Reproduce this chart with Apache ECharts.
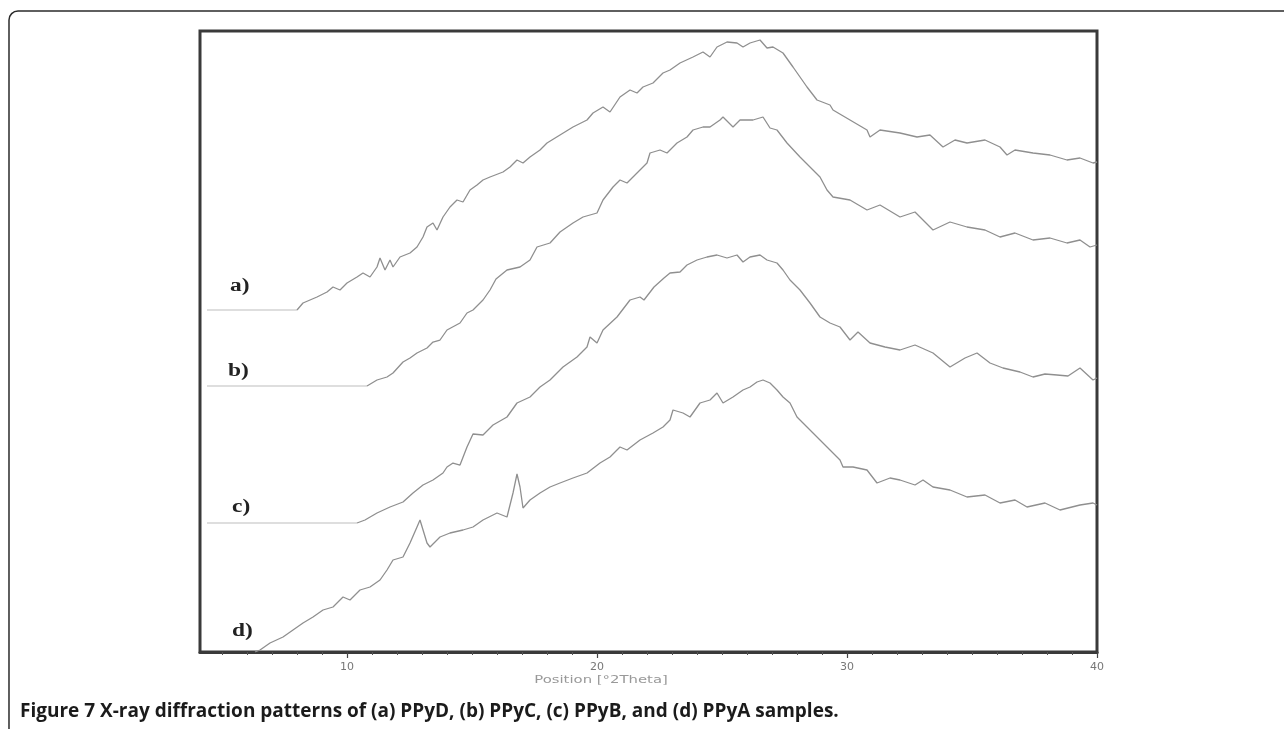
<!DOCTYPE html>
<html>
<head>
<meta charset="utf-8">
<title>Figure 7 XRD</title>
<script src="https://cdn.jsdelivr.net/npm/echarts@6/dist/echarts.min.js"></script>
<style>
  html, body { margin: 0; padding: 0; background: #fff; }
  #main { width: 1284px; height: 729px; }
</style>
</head>
<body>
<div id="main"></div>
<script>
// x = position [deg 2theta], y = intensity (arb. units, traces offset as in the figure)

// a) PPyD
var ppyD = [
  [8.00, 342], [8.24, 349], [8.80, 355], [9.20, 360], [9.44, 365], [9.72, 362], [10.00, 369],
  [10.40, 375], [10.64, 379], [10.92, 375], [11.20, 385], [11.32, 394], [11.52, 382], [11.72, 392],
  [11.84, 385], [12.12, 395], [12.52, 399], [12.80, 405], [13.04, 415], [13.20, 425], [13.44, 429],
  [13.60, 422], [13.84, 435], [14.12, 445], [14.40, 452], [14.64, 450], [14.92, 462], [15.20, 467],
  [15.44, 472], [15.72, 475], [16.24, 480], [16.52, 485], [16.80, 492], [17.04, 489], [17.32, 495],
  [17.72, 502], [18.00, 509], [18.52, 517], [19.04, 525], [19.60, 532], [19.84, 539], [20.24, 545],
  [20.52, 540], [20.92, 555], [21.32, 562], [21.60, 559], [21.84, 565], [22.24, 569], [22.64, 579],
  [22.92, 582], [23.32, 589], [23.84, 595], [24.24, 600], [24.52, 595], [24.80, 605], [25.20, 610],
  [25.60, 609], [25.84, 605], [26.12, 609], [26.52, 612], [26.80, 604], [27.04, 605], [27.44, 599],
  [27.84, 585], [28.40, 565], [28.80, 552], [29.32, 547], [29.44, 542], [30.12, 532], [30.80, 522],
  [30.92, 515], [31.32, 522], [32.12, 519], [32.80, 515], [33.32, 517], [33.84, 505], [34.32, 512],
  [34.80, 509], [35.52, 512], [36.12, 505], [36.40, 497], [36.72, 502], [37.44, 499], [38.12, 497],
  [38.80, 492], [39.32, 494], [39.84, 489], [40.00, 490]
];

// b) PPyC
var ppyC = [
  [10.80, 266], [11.20, 272], [11.60, 275], [11.84, 279], [12.24, 290], [12.52, 294], [12.80, 299],
  [13.20, 304], [13.44, 310], [13.72, 312], [14.00, 322], [14.52, 329], [14.80, 339], [15.04, 342],
  [15.44, 352], [15.72, 362], [15.96, 373], [16.40, 382], [16.92, 385], [17.32, 392], [17.60, 405],
  [18.12, 409], [18.52, 420], [19.04, 429], [19.44, 435], [20.00, 439], [20.24, 452], [20.64, 465],
  [20.92, 472], [21.20, 469], [21.60, 479], [22.00, 489], [22.12, 499], [22.52, 502], [22.80, 499],
  [23.20, 509], [23.60, 515], [23.84, 522], [24.24, 525], [24.52, 525], [24.92, 532], [25.04, 535],
  [25.44, 525], [25.72, 532], [26.24, 532], [26.64, 535], [26.92, 524], [27.20, 522], [27.60, 509],
  [28.12, 495], [28.64, 482], [28.92, 475], [29.20, 462], [29.44, 455], [30.12, 452], [30.80, 442],
  [31.32, 447], [32.12, 435], [32.72, 440], [33.44, 422], [34.12, 430], [34.80, 425], [35.52, 422],
  [36.12, 415], [36.72, 419], [37.44, 412], [38.12, 414], [38.80, 409], [39.32, 412], [39.72, 405],
  [40.00, 407]
];

// c) PPyB
var ppyB = [
  [10.40, 129], [10.72, 132], [11.20, 139], [11.72, 145], [12.24, 150], [12.64, 159], [13.04, 167],
  [13.44, 172], [13.84, 179], [14.00, 185], [14.24, 189], [14.52, 187], [14.80, 205], [15.04, 218],
  [15.44, 217], [15.84, 227], [16.40, 235], [16.80, 249], [17.32, 255], [17.72, 265], [18.12, 272],
  [18.64, 285], [19.20, 295], [19.60, 305], [19.72, 315], [20.00, 309], [20.24, 322], [20.80, 335],
  [21.32, 352], [21.72, 355], [21.88, 352], [22.28, 365], [22.68, 374], [22.92, 379], [23.32, 380],
  [23.60, 387], [24.00, 392], [24.40, 395], [24.80, 397], [25.20, 394], [25.60, 397], [25.84, 390],
  [26.12, 395], [26.52, 397], [26.80, 392], [27.20, 389], [27.44, 382], [27.72, 372], [28.12, 362],
  [28.52, 349], [28.92, 335], [29.32, 329], [29.72, 325], [30.12, 312], [30.44, 320], [30.92, 309],
  [31.52, 305], [32.12, 302], [32.72, 307], [33.44, 299], [34.12, 285], [34.72, 294], [35.20, 299],
  [35.72, 289], [36.24, 284], [36.92, 280], [37.44, 275], [37.92, 278], [38.40, 277], [38.84, 276],
  [39.32, 284], [39.84, 272], [40.00, 274]
];

// d) PPyA
var ppyA = [
  [6.32, 0], [6.52, 2], [6.92, 9], [7.44, 15], [7.84, 22], [8.24, 29], [8.64, 35], [9.04, 42],
  [9.44, 45], [9.84, 55], [10.12, 52], [10.52, 62], [10.92, 65], [11.32, 72], [11.60, 82], [11.84, 92],
  [12.24, 95], [12.52, 109], [12.80, 125], [12.92, 132], [13.20, 109], [13.32, 105], [13.72, 115],
  [14.12, 119], [14.64, 122], [15.04, 125], [15.44, 132], [16.00, 139], [16.40, 135], [16.64, 159],
  [16.80, 178], [16.92, 165], [17.04, 144], [17.32, 152], [17.72, 159], [18.12, 165], [18.52, 169],
  [19.04, 174], [19.60, 179], [20.12, 189], [20.52, 195], [20.92, 205], [21.20, 202], [21.72, 212],
  [22.24, 219], [22.64, 225], [22.92, 232], [23.04, 242], [23.44, 239], [23.72, 235], [24.12, 249],
  [24.52, 252], [24.80, 259], [25.04, 249], [25.44, 255], [25.84, 262], [26.12, 265], [26.40, 270],
  [26.64, 272], [26.92, 269], [27.20, 262], [27.44, 255], [27.72, 249], [28.00, 235], [28.24, 229],
  [28.64, 219], [28.92, 212], [29.32, 202], [29.72, 192], [29.84, 185], [30.24, 185], [30.80, 182],
  [31.20, 169], [31.72, 174], [32.12, 172], [32.72, 167], [33.04, 172], [33.44, 165], [34.12, 162],
  [34.80, 155], [35.52, 157], [36.12, 149], [36.72, 152], [37.20, 145], [37.92, 149], [38.52, 142],
  [39.32, 147], [39.84, 149], [40.00, 147]
];

// flat baselines drawn before each scan starts
var baseD = [[4.40, 342], [8.00, 342]];
var baseC = [[4.40, 266], [10.80, 266]];
var baseB = [[4.40, 129], [10.40, 129]];

var majorTicks = [10, 20, 30, 40];
var minorTicks = [];
for (var t = 5; t <= 40; t++) minorTicks.push(t);

var traceLabels = ['a)', 'b)', 'c)', 'd)'];
var labelPos = [[230, 286], [228, 371], [232, 507], [232, 631]];

var chart = echarts.init(document.getElementById('main'));

function trace (data, color, width) {
  return {
    type: 'line',
    data: data,
    symbol: 'none',
    xAxisIndex: 0,
    lineStyle: { color: color, width: width },
    silent: true
  };
}

var graphics = [
  {
    type: 'rect',
    shape: { x: 9, y: 11, width: 1320, height: 800, r: 9 },
    style: { fill: null, stroke: '#2b2b2b', lineWidth: 1.5 },
    z: -10
  },
  {
    type: 'text',
    x: 601, y: 675,
    scaleX: 1.35,
    style: { text: 'Position [°2Theta]', fill: '#999', font: '11px "DejaVu Sans"', align: 'center' }
  },
  {
    type: 'text',
    x: 20, y: 702,
    style: {
      text: 'Figure 7 X-ray diffraction patterns of (a) PPyD, (b) PPyC, (c) PPyB, and (d) PPyA samples.',
      fill: '#1b1b1b',
      font: 'bold 19px "Open Sans"'
    }
  }
];
traceLabels.forEach(function (s, i) {
  graphics.push({
    type: 'text',
    x: labelPos[i][0], y: labelPos[i][1],
    scaleX: 1.3,
    style: { text: s, fill: '#222', font: 'bold 18px "Liberation Serif"', verticalAlign: 'middle' }
  });
});

var option = {
  animation: false,
  backgroundColor: '#fff',
  grid: {
    left: 200, right: 187, top: 31, bottom: 77,
    show: true,
    borderColor: '#3a3a3a',
    borderWidth: 3,
    backgroundColor: 'transparent'
  },
  xAxis: [
    {
      type: 'value',
      min: 4.12, max: 40,
      axisLine: { show: true, lineStyle: { color: '#3a3a3a', width: 3 } },
      axisTick: { show: true, customValues: minorTicks, length: 3, lineStyle: { color: '#555', width: 1 } },
      axisLabel: { customValues: majorTicks, color: '#777', fontSize: 11, margin: 10, fontFamily: 'DejaVu Sans' },
      splitLine: { show: false }
    },
    {
      type: 'value',
      min: 4.12, max: 40,
      position: 'bottom',
      axisLine: { show: false },
      axisTick: { show: true, customValues: majorTicks, length: 6, lineStyle: { color: '#444', width: 1.2 } },
      axisLabel: { show: false },
      splitLine: { show: false }
    }
  ],
  yAxis: {
    type: 'value',
    min: 0, max: 621,
    show: false,
    splitLine: { show: false }
  },
  series: [
    trace(baseD, '#bdbdbd', 1.2),
    trace(baseC, '#bdbdbd', 1.2),
    trace(baseB, '#bdbdbd', 1.2),
    trace(ppyD, '#8f8f8f', 1.3),
    trace(ppyC, '#8f8f8f', 1.3),
    trace(ppyB, '#8f8f8f', 1.3),
    trace(ppyA, '#8f8f8f', 1.3)
  ],
  graphic: graphics
};

chart.setOption(option);
</script>
</body>
</html>
